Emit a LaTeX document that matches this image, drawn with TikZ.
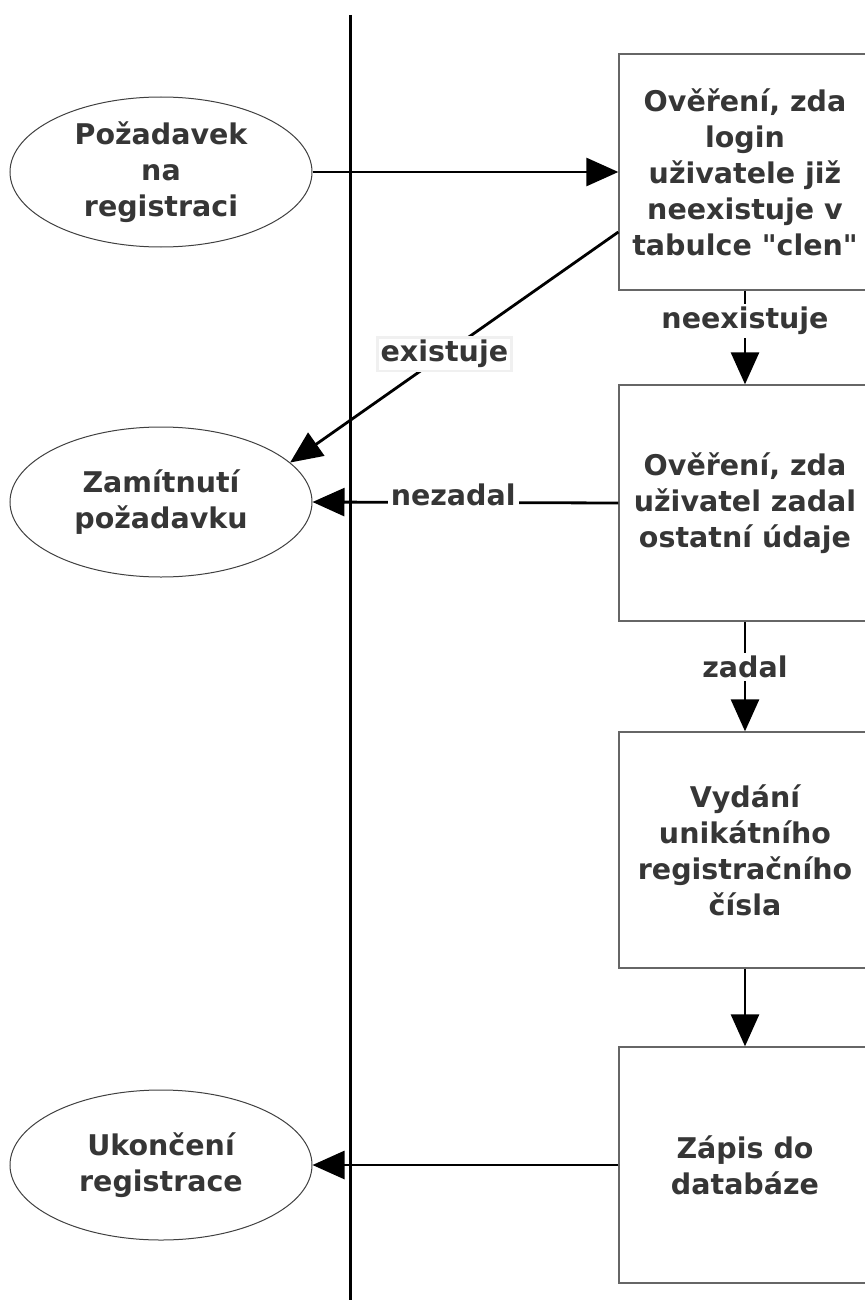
\documentclass[tikz,border=0pt]{standalone}
\usepackage{fontspec}
\setmainfont{DejaVu Sans}
\usetikzlibrary{arrows.meta,shapes.geometric,calc}
\definecolor{txt}{HTML}{363636}
\begin{document}
\begin{tikzpicture}[x=1pt,y=-1pt,
  lblfont/.style={font=\bfseries\fontsize{28.5}{36}\selectfont},
  proc/.style={rectangle, draw=black!60, line width=1.3pt, minimum width=252pt,
    minimum height=236pt, inner sep=0pt, align=center, text=txt, lblfont},
  term/.style={ellipse, draw=black!75, line width=1pt, minimum width=302pt,
    minimum height=150pt, inner sep=0pt, align=center, text=txt, lblfont},
  flow/.style={line width=2.8pt, -{Triangle[length=32pt,width=28pt]}},
  lbl/.style={fill=white, draw=black!6, text=txt, lblfont, inner sep=3pt}
]
\useasboundingbox (0,0) rectangle (864,1300);

% swimlane divider
\coordinate (laneTop) at (350,15);
\coordinate (laneBot) at (350,1300);
\draw[line width=3pt] (laneTop) -- (laneBot);

% start / end states
\node[term] (e1) at (161,172) {Požadavek\\na\\registraci};
\node[term] (e2) at (161,502) {Zamítnutí\\požadavku};
\node[term] (e3) at (161,1165) {Ukončení\\registrace};

% process steps
\node[proc] (b1) at (745,172) {Ověření, zda\\login\\uživatele již\\neexistuje v\\tabulce \textquotedbl clen\textquotedbl};
\node[proc] (b2) at (745,503) {Ověření, zda\\uživatel zadal\\ostatní údaje};
\node[proc] (b3) at (745,850) {Vydání\\unikátního\\registračního\\čísla};
\node[proc] (b4) at (745,1165) {Zápis do\\databáze};

% connectors
\draw[flow] (e1.east) -- (b1.west);
\draw[flow] ($(b1.west)+(0,60)$) -- node[lbl, pos=0.53] {existuje} (e2.17);
\draw[flow] (b1.south) -- node[lbl, pos=0.32, draw=none] {neexistuje} (b2.north);
\draw[flow] (b2.west) -- node[lbl, pos=0.54, yshift=8pt, draw=none] {nezadal} (e2.east);
\draw[flow] (b2.south) -- node[lbl, pos=0.41, draw=none] {zadal} (b3.north);
\draw[flow] (b3.south) -- (b4.north);
\draw[flow] (b4.west) -- (e3.east);
\end{tikzpicture}
\end{document}
